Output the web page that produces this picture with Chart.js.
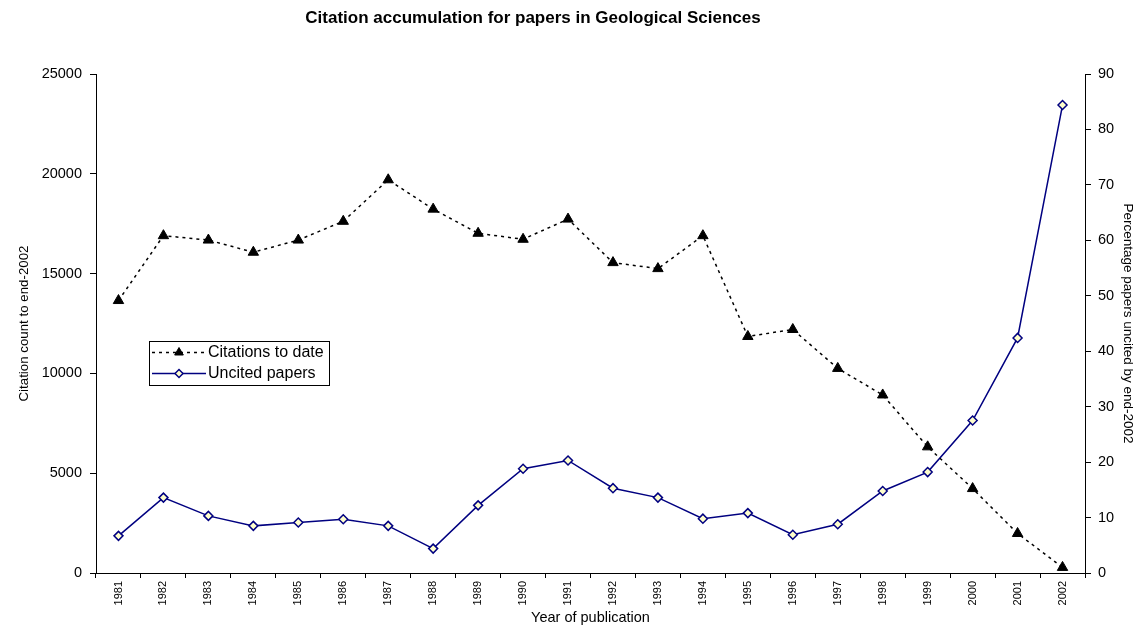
<!DOCTYPE html>
<html>
<head>
<meta charset="utf-8">
<script src="https://cdn.jsdelivr.net/npm/chart.js@4/dist/chart.umd.min.js"></script>
<style>
  html, body { margin: 0; padding: 0; background: #fff; }
</style>
</head>
<body>
<canvas id="citationChart" width="1136" height="629"></canvas>
<script>
// Year of publication
const years = ["1981", "1982", "1983", "1984", "1985", "1986", "1987", "1988", "1989", "1990", "1991",
               "1992", "1993", "1994", "1995", "1996", "1997", "1998", "1999", "2000", "2001", "2002"];

// Citation count to end-2002 (left axis)
const citations = [13650, 16900, 16680, 16070, 16680, 17620, 19700, 18230, 17020, 16720, 17730,
                   15550, 15250, 16900, 11850, 12200, 10250, 8920, 6320, 4230, 1980, 280];

// Percentage of papers uncited by end-2002 (right axis)
const uncitedPct = [6.7, 13.6, 10.3, 8.5, 9.1, 9.7, 8.5, 4.4, 12.2, 18.8, 20.3,
                    15.3, 13.6, 9.8, 10.8, 6.9, 8.8, 14.8, 18.2, 27.5, 42.4, 84.4];

const citationRange = [0, 25000, 5000];
const percentRange = [0, 90, 10];

const chartTitle = "Citation accumulation for papers in Geological Sciences";
const FONT = "Arial, 'Liberation Sans', sans-serif";

// title sits a little left of centre, so it is drawn by hand
const headTitle = {
    id: "headTitle",
    afterDraw(chart) {
        const ctx = chart.ctx;
        ctx.save();
        ctx.fillStyle = "#000";
        ctx.font = "bold 17px " + FONT;
        ctx.textAlign = "center";
        ctx.textBaseline = "middle";
        ctx.fillText(chartTitle, 533, 18);
        ctx.restore();
    }
};

// small boxed legend sitting inside the plot area
const boxLegend = {
    id: "boxLegend",
    afterDraw(chart) {
        const ctx = chart.ctx;
        const sets = chart.data.datasets;
        const x0 = 149.5, y0 = 341.5, w = 180, h = 44;
        ctx.save();
        ctx.fillStyle = "#fff";
        ctx.fillRect(x0, y0, w, h);
        ctx.strokeStyle = "#000";
        ctx.lineWidth = 1;
        ctx.strokeRect(x0, y0, w, h);

        const rows = [352.5, 373.5];
        sets.forEach((ds, i) => {
            const y = rows[i];
            ctx.strokeStyle = ds.borderColor;
            ctx.lineWidth = ds.borderWidth;
            ctx.setLineDash(ds.borderDash || []);
            ctx.beginPath();
            ctx.moveTo(152, y);
            ctx.lineTo(206, y);
            ctx.stroke();
            ctx.setLineDash([]);

            ctx.fillStyle = ds.pointBackgroundColor;
            ctx.strokeStyle = ds.pointBorderColor;
            ctx.lineWidth = ds.pointBorderWidth;
            Chart.helpers.drawPoint(ctx, {
                pointStyle: ds.pointStyle,
                radius: ds.legendRadius,
                borderWidth: ds.pointBorderWidth,
                rotation: 0
            }, 179, y);

            ctx.fillStyle = "#000";
            ctx.font = "16px " + FONT;
            ctx.textBaseline = "middle";
            ctx.textAlign = "left";
            ctx.fillText(ds.label, 208, y + 0.5);
        });
        ctx.restore();
    }
};

const plain = v => String(v);

new Chart(document.getElementById("citationChart"), {
    type: "line",
    data: {
        labels: years,
        datasets: [{
            label: "Citations to date",
            data: citations,
            yAxisID: "y",
            borderColor: "#000",
            borderWidth: 1.5,
            borderDash: [3, 4],
            pointStyle: "triangle",
            pointRadius: 6,
            legendRadius: 5,
            pointBackgroundColor: "#000",
            pointBorderColor: "#000",
            pointBorderWidth: 1,
            tension: 0
        }, {
            label: "Uncited papers",
            data: uncitedPct,
            yAxisID: "y1",
            borderColor: "#000080",
            borderWidth: 1.5,
            pointStyle: "rectRot",
            pointRadius: 4.5,
            legendRadius: 4,
            pointBackgroundColor: "#FFFFCC",
            pointBorderColor: "#000080",
            pointBorderWidth: 1.5,
            tension: 0
        }]
    },
    options: {
        responsive: false,
        animation: false,
        layout: { padding: { top: 74 } },
        plugins: {
            legend: { display: false },
            tooltip: { enabled: false },
            title: { display: false }
        },
        scales: {
            x: {
                offset: true,
                grid: { offset: true, drawOnChartArea: false, drawTicks: true, tickLength: 5, color: "#000" },
                border: { color: "#000", width: 1 },
                ticks: { autoSkip: false, maxRotation: 90, minRotation: 90, color: "#000", padding: 3,
                         font: { family: FONT, size: 11 } },
                title: { display: true, text: "Year of publication", color: "#000",
                         font: { family: FONT, size: 14.5 }, padding: { top: 0, bottom: 2 } },
                afterFit(scale) { scale.height = 56; }
            },
            y: {
                position: "left",
                min: citationRange[0],
                max: citationRange[1],
                grid: { drawOnChartArea: false, drawTicks: true, tickLength: 6, color: "#000" },
                border: { color: "#000", width: 1 },
                ticks: { stepSize: citationRange[2], color: "#000", padding: 8, callback: plain,
                         font: { family: FONT, size: 14.5 } },
                title: { display: true, text: "Citation count to end-2002", color: "#000",
                         font: { family: FONT, size: 13.3 }, padding: { top: 16, bottom: 0 } },
                afterFit(scale) { scale.width = 96; }
            },
            y1: {
                position: "right",
                min: percentRange[0],
                max: percentRange[1],
                grid: { drawOnChartArea: false, drawTicks: true, tickLength: 6, color: "#000" },
                border: { color: "#000", width: 1 },
                ticks: { stepSize: percentRange[2], color: "#000", padding: 7, callback: plain,
                         font: { family: FONT, size: 14.5 } },
                title: { display: true, text: "Percentage papers uncited by end-2002", color: "#000",
                         font: { family: FONT, size: 13.5 }, padding: { top: 0, bottom: 0 } },
                afterFit(scale) { scale.width = 51; }
            }
        }
    },
    plugins: [headTitle, boxLegend]
});
</script>
</body>
</html>
